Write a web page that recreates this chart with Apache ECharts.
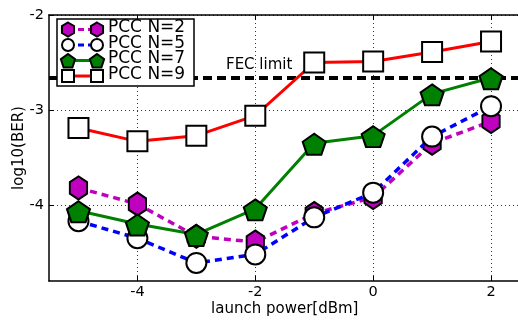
<!DOCTYPE html>
<html><head><meta charset="utf-8">
<script src="https://cdn.jsdelivr.net/npm/echarts@6/dist/echarts.min.js"></script>
<style>html,body{margin:0;padding:0;background:#fff}#c{width:518px;height:320px}</style>
</head><body><div id="c"></div>
<script>
const powers = [-5, -4, -3, -2, -1, 0, 1, 2];
const pccN2 = [-3.82, -3.99, -4.33, -4.39, -4.09, -3.92, -3.35, -3.12];
const pccN5 = [-4.17, -4.35, -4.61, -4.52, -4.13, -3.87, -3.28, -2.96];
const pccN7 = [-4.06, -4.20, -4.31, -4.04, -3.35, -3.27, -2.83, -2.66];
const pccN9 = [-3.19, -3.33, -3.27, -3.06, -2.50, -2.49, -2.39, -2.28];
const fecLimit = -2.66;
const xTicks = [-4, -2, 0, 2];
const yTicks = [-4, -3, -2];
const seriesNames = ['PCC N=2', 'PCC N=5', 'PCC N=7', 'PCC N=9'];

const FONT = 'DejaVu Sans';
const HEX = 'path://M0,-1 L0.866,-0.5 L0.866,0.5 L0,1 L-0.866,0.5 L-0.866,-0.5 Z';
const PENT = 'path://M0,-1 L0.951,-0.309 L0.588,0.809 L-0.588,0.809 L-0.951,-0.309 Z';

function pts(arr) { return powers.map((p, i) => [p, arr[i]]); }

function poly(n, cx, cy, r) {
  const p = [];
  for (let k = 0; k < n; k++) {
    const a = -Math.PI / 2 + k * 2 * Math.PI / n;
    p.push([cx + r * Math.cos(a), cy + r * Math.sin(a)]);
  }
  return p;
}

const legendRows = [29.5, 45, 60.5, 76];
const lx1 = 68, lx2 = 97;
const legendGraphics = [
  { type: 'rect', shape: { x: 57, y: 19, width: 137, height: 67 }, style: { fill: '#fff', stroke: '#000', lineWidth: 1.5 }, z: 100 }
];
const mk = [
  (cx, cy) => ({ type: 'polygon', shape: { points: poly(6, cx, cy, 7) }, style: { fill: '#bf00bf', stroke: '#000', lineWidth: 2 } }),
  (cx, cy) => ({ type: 'circle', shape: { cx: cx, cy: cy, r: 6 }, style: { fill: '#fff', stroke: '#000', lineWidth: 2 } }),
  (cx, cy) => ({ type: 'polygon', shape: { points: poly(5, cx, cy + 1, 7.5) }, style: { fill: '#008000', stroke: '#000', lineWidth: 2 } }),
  (cx, cy) => ({ type: 'rect', shape: { x: cx - 6, y: cy - 6, width: 12, height: 12 }, style: { fill: '#fff', stroke: '#000', lineWidth: 2 } })
];
const lcol = ['#bf00bf', '#0000ff', '#008000', '#ff0000'];
const ldash = [[6, 4], [6, 4], null, null];
legendRows.forEach((y, i) => {
  legendGraphics.push({ type: 'line', shape: { x1: lx1, y1: y, x2: lx2, y2: y }, style: { stroke: lcol[i], lineWidth: 3, lineDash: ldash[i] }, z: 101 });
  const a = mk[i](lx1, y); a.z = 102; legendGraphics.push(a);
  const b = mk[i](lx2, y); b.z = 102; legendGraphics.push(b);
  legendGraphics.push({ type: 'text', left: 108, top: y - 10, style: { text: seriesNames[i], font: '17px "DejaVu Sans"', fill: '#000' }, z: 102 });
});
legendGraphics.push({ type: 'text', left: 226, top: 58, style: { text: 'FEC limit', font: '15px "DejaVu Sans"', fill: '#000' }, z: 50 });

const xCommon = {
  type: 'value', min: -5.5, max: 2.5,
  axisLine: { show: true, onZero: false, lineStyle: { color: '#000', width: 1.5 } },
  axisTick: { show: true, inside: true, length: 5, customValues: xTicks, lineStyle: { color: '#000', width: 1 } },
  splitLine: { show: false }
};

const chart = echarts.init(document.getElementById('c'), null, { renderer: 'canvas' });
chart.setOption({
  animation: false,
  backgroundColor: '#fff',
  textStyle: { fontFamily: FONT },
  grid: { left: 49, top: 15, width: 471.5, height: 266, containLabel: false, outerBoundsMode: 'none' },
  xAxis: [
    Object.assign({}, xCommon, {
      position: 'bottom',
      name: 'launch power[dBm]', nameLocation: 'middle', nameGap: 21, nameMoveOverlap: false,
      nameTextStyle: { fontFamily: FONT, fontSize: 15, color: '#000' },
      axisLabel: { show: true, customValues: xTicks, fontFamily: FONT, fontSize: 14.5, color: '#000', margin: 4 },
      splitLine: { show: true, lineStyle: { color: '#000', width: 0.8, type: [1, 3] } }
    }),
    Object.assign({}, xCommon, { position: 'top', axisLabel: { show: false } })
  ],
  yAxis: {
    type: 'value', min: -4.8, max: -2,
    name: 'log10(BER)', nameLocation: 'middle', nameGap: 22, nameMoveOverlap: false,
    nameTextStyle: { fontFamily: FONT, fontSize: 15, color: '#000' },
    axisLine: { show: true, onZero: false, lineStyle: { color: '#000', width: 1.5 } },
    axisTick: { show: true, inside: true, length: 5, customValues: yTicks, lineStyle: { color: '#000' } },
    axisLabel: { customValues: yTicks, fontFamily: FONT, fontSize: 14.5, color: '#000', margin: 5 },
    splitLine: { show: true, lineStyle: { color: '#000', width: 0.8, type: [1, 3] } }
  },
  graphic: legendGraphics,
  series: [
    {
      name: seriesNames[0], type: 'line', data: pts(pccN2), z: 3,
      symbol: HEX, symbolSize: [20, 23], symbolKeepAspect: true,
      lineStyle: { color: '#bf00bf', width: 3.5, type: [7, 5] },
      itemStyle: { color: '#bf00bf', borderColor: '#000', borderWidth: 2, opacity: 1 },
      markLine: {
        silent: true, symbol: 'none', label: { show: false },
        lineStyle: { color: '#000', width: 4, type: [9, 5] },
        data: [{ yAxis: fecLimit }]
      }
    },
    {
      name: seriesNames[1], type: 'line', data: pts(pccN5), z: 4,
      symbol: 'circle', symbolSize: 20,
      lineStyle: { color: '#0000ff', width: 3.5, type: [7, 5] },
      itemStyle: { color: '#fff', borderColor: '#000', borderWidth: 2, opacity: 1 }
    },
    {
      name: seriesNames[2], type: 'line', data: pts(pccN7), z: 5,
      symbol: PENT, symbolSize: [23, 22], symbolKeepAspect: true, symbolOffset: [0, 1],
      lineStyle: { color: '#008000', width: 3 },
      itemStyle: { color: '#008000', borderColor: '#000', borderWidth: 2, opacity: 1 }
    },
    {
      name: seriesNames[3], type: 'line', data: pts(pccN9), z: 6,
      symbol: 'rect', symbolSize: 20,
      lineStyle: { color: '#ff0000', width: 3 },
      itemStyle: { color: '#fff', borderColor: '#000', borderWidth: 2, opacity: 1 }
    }
  ]
});
</script></body></html>
